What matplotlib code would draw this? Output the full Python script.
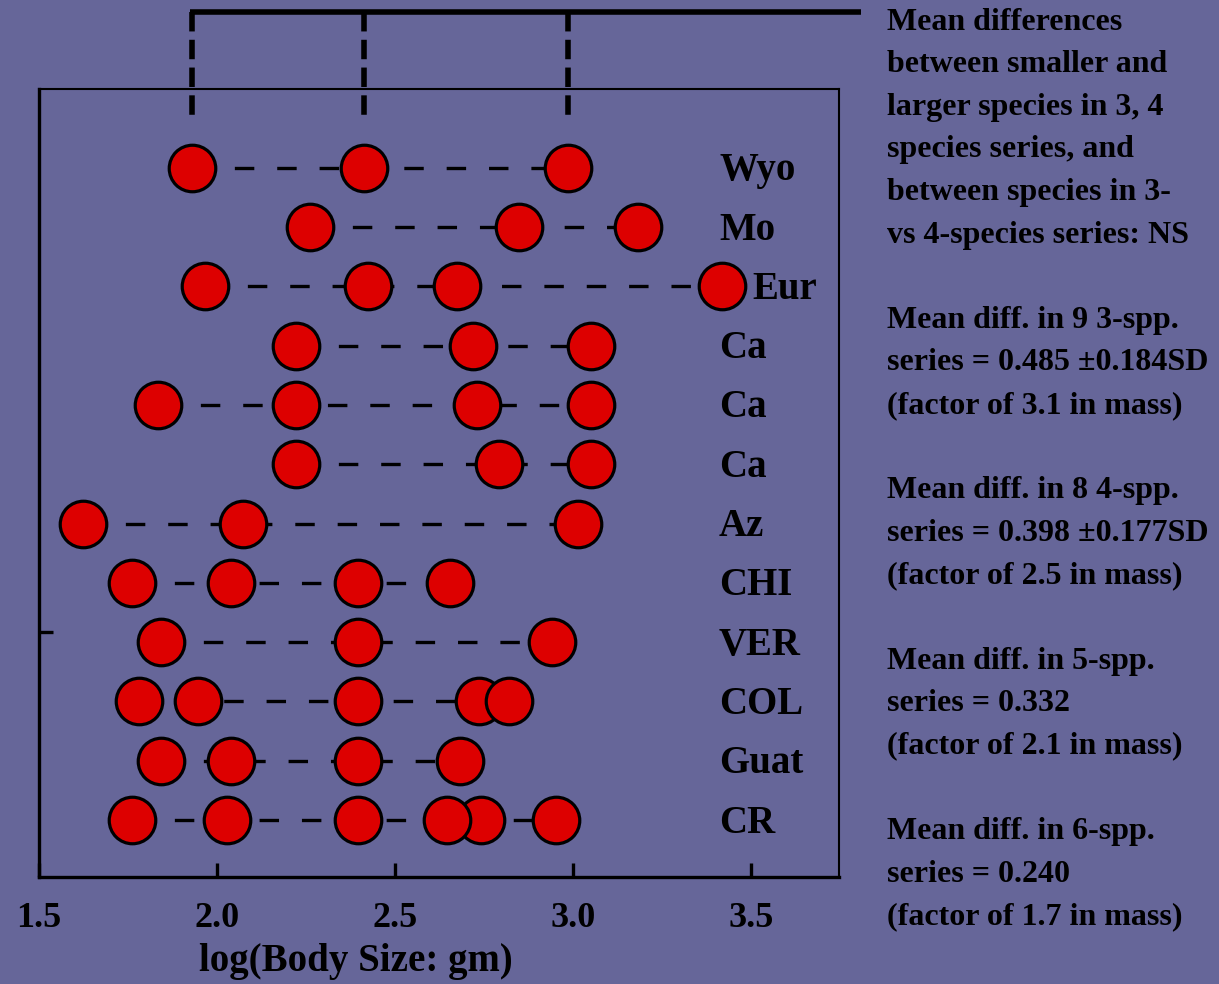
import matplotlib
matplotlib.use('Agg')
import matplotlib.pyplot as plt

# ---- data ----
rows = ['Wyo', 'Mo', 'Eur', 'Ca', 'Ca', 'Ca', 'Az', 'CHI', 'VER', 'COL', 'Guat', 'CR']
log_sizes = [
    [1.929, 2.414, 2.985],
    [2.260, 2.849, 3.182],
    [1.965, 2.425, 2.673, 3.419],
    [2.222, 2.720, 3.051],
    [1.835, 2.222, 2.729, 3.051],
    [2.222, 2.793, 3.051],
    [1.624, 2.074, 3.013],
    [1.760, 2.038, 2.397, 2.654],
    [1.843, 2.397, 2.940],
    [1.781, 1.946, 2.397, 2.736, 2.821],
    [1.843, 2.038, 2.397, 2.683],
    [1.760, 2.029, 2.397, 2.742, 2.647, 2.951],
]
xticks = [1.5, 2.0, 2.5, 3.0, 3.5]
xtick_labels = ['1.5', '2.0', '2.5', '3.0', '3.5']
ytick_pos = [4.18]
bracket_end = 3.81

notes = [
    "Mean differences",
    "between smaller and",
    "larger species in 3, 4",
    "species series, and",
    "between species in 3-",
    "vs 4-species series: NS",
    "",
    "Mean diff. in 9 3-spp.",
    "series = 0.485 \u00b10.184SD",
    "(factor of 3.1 in mass)",
    "",
    "Mean diff. in 8 4-spp.",
    "series = 0.398 \u00b10.177SD",
    "(factor of 2.5 in mass)",
    "",
    "Mean diff. in 5-spp.",
    "series = 0.332",
    "(factor of 2.1 in mass)",
    "",
    "Mean diff. in 6-spp.",
    "series = 0.240",
    "(factor of 1.7 in mass)",
]

# ---- style ----
BG = '#666699'
RED = '#DD0000'
plt.rcParams['font.family'] = ['Liberation Serif', 'DejaVu Serif']
plt.rcParams['font.weight'] = 'bold'
plt.rcParams['lines.scale_dashes'] = False

W, H = 1219, 984
fig = plt.figure(figsize=(W / 100, H / 100), dpi=100, facecolor=BG)
ax = fig.add_axes([39 / W, 1 - 877 / H, 800 / W, 788 / H], facecolor=BG)

n = len(rows)
for i, (name, vals) in enumerate(zip(rows, log_sizes)):
    y = n - i
    ax.plot([min(vals), max(vals)], [y, y], color='black', lw=2.4,
            dashes=(14, 16.5), zorder=2, solid_capstyle='butt', dash_capstyle='butt')
    ax.plot(vals, [y] * len(vals), linestyle='none', marker='o', markersize=33.5,
            markerfacecolor=RED, markeredgecolor='black', markeredgewidth=2.3, zorder=3)
    lx = max(3.41, max(vals) + 0.085)
    ax.text(lx, y - 0.21, name, fontsize=28, fontweight='bold', ha='left', va='baseline')

# bracket from the top row
top_y = n + 2.63
for v in log_sizes[0]:
    ax.plot([v, v], [top_y, n + 0.86], color='black', lw=4, dashes=(14, 6),
            clip_on=False, zorder=2, dash_capstyle='butt')
ax.plot([log_sizes[0][0] - 0.006, bracket_end], [top_y, top_y], color='black', lw=4,
        clip_on=False, solid_capstyle='butt')

ax.set_xlim(1.5, 3.747)
ax.set_ylim(0.04, n + 1.33)
ax.set_xticks(xticks)
ax.set_xticklabels(xtick_labels, fontsize=26, fontweight='bold')
ax.set_yticks(ytick_pos)
ax.set_yticklabels([])
ax.tick_params(axis='both', direction='in', length=10, width=2.4, colors='black')
ax.tick_params(axis='x', pad=18)
for s in ['left', 'bottom']:
    ax.spines[s].set_linewidth(2.4)
for s in ['top', 'right']:
    ax.spines[s].set_linewidth(1.5)

fig.text(356 / W, 1 - 962 / H, 'log(Body Size: gm)', fontsize=28, fontweight='bold',
         ha='center', va='center')

for k, line in enumerate(notes):
    if line:
        fig.text(887 / W, 1 - (22 + 42.6 * k) / H, line, fontsize=23,
                 fontweight='bold', ha='left', va='center')

fig.savefig('out.png', dpi=100, facecolor=BG)
